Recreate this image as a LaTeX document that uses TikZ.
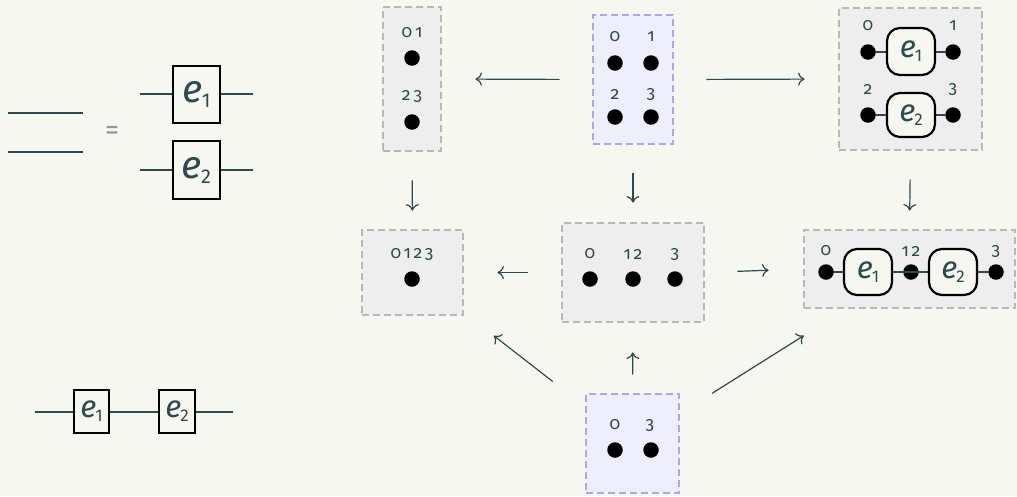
\documentclass[tikz,border=0pt]{standalone}
\usepackage{fontspec}
\setmainfont{Fira Sans}[Numbers=OldStyle]
\newfontfamily\subfont{Fira Sans}[Numbers=Lining]
\usetikzlibrary{arrows.meta}
\definecolor{bg}{HTML}{F7F7F2}
\definecolor{ink}{HTML}{2E4A4C}
\definecolor{framegray}{HTML}{B8B8B8}
\definecolor{fillgray}{HTML}{EEEEEE}
\definecolor{framepurple}{HTML}{A8A8EA}
\definecolor{fillpurple}{HTML}{EEEEFC}
\definecolor{eqgray}{HTML}{8C9696}
\newcommand{\ebig}[1]{{\fontsize{39}{39}\selectfont\itshape e}\kern-1pt\raisebox{-5pt}{\subfont\fontsize{20}{20}\selectfont #1}}
\newcommand{\emid}[1]{{\fontsize{31}{31}\selectfont\itshape e}\kern-1pt\raisebox{-4pt}{\subfont\fontsize{17}{17}\selectfont #1}}
\tikzset{
  grayframe/.style={rectangle, draw=framegray, fill=fillgray, line width=2.8pt, dash pattern=on 7pt off 4pt},
  purpleframe/.style={rectangle, draw=framepurple, fill=fillpurple, line width=2.8pt, dash pattern=on 7pt off 4pt},
  dot/.style={circle, fill=black, inner sep=0pt, minimum size=15.5pt},
  lab/.style={inner sep=0pt, text=ink, font=\fontsize{17.5}{17.5}\selectfont},
  arr/.style={draw=ink, line width=1.2pt, -{To[length=6.5pt,width=13pt]}},
  wire/.style={draw=ink, line width=2.4pt},
  sqbox/.style={rectangle, draw=black, line width=2.6pt, fill=bg, inner sep=0pt, text=ink},
  rbox/.style={rectangle, rounded corners=13pt, draw=black, line width=2.2pt, fill=bg, inner sep=0pt, text=ink, minimum width=48pt, minimum height=46pt},
}
\begin{document}
\begin{tikzpicture}[x=1pt,y=-1pt]
\useasboundingbox[fill=bg] (0,0) rectangle (1017,496);

% ---- left: two wires = e1 / e2
\coordinate (la0) at (8,113); \coordinate (la1) at (83,113);
\coordinate (lb0) at (8,152); \coordinate (lb1) at (83,152);
\draw[wire, line width=2.8pt] (la0) -- (la1);
\draw[wire, line width=2.8pt] (lb0) -- (lb1);
\node[text=eqgray, inner sep=0pt, font=\fontsize{28}{28}\selectfont] (eq) at (112,133) {=};
\coordinate (wa0) at (140,94); \coordinate (wa1) at (253,94);
\coordinate (wb0) at (140,170); \coordinate (wb1) at (253,170);
\draw[wire] (wa0) -- (wa1);
\draw[wire] (wb0) -- (wb1);
\node[sqbox, minimum width=47pt, minimum height=57pt] (be1) at (196.5,94.5) {\ebig{1}};
\node[sqbox, minimum width=47pt, minimum height=58pt] (be2) at (196.5,170) {\ebig{2}};

% ---- bottom left: e1 e2 in series
\coordinate (s0) at (35,412); \coordinate (s3) at (233,412);
\draw[wire] (s0) -- (s3);
\node[sqbox, line width=2.2pt, minimum width=35pt, minimum height=43pt] (se1) at (91.5,411.5) {\emid{1}};
\node[sqbox, line width=2.2pt, minimum width=36pt, minimum height=43pt] (se2) at (177,411.5) {\emid{2}};

% ---- frames
\node[grayframe, minimum width=58pt, minimum height=144pt] (t1) at (412,79) {};
\node[purpleframe, minimum width=80pt, minimum height=129pt] (t2) at (633,79.5) {};
\node[grayframe, minimum width=143pt, minimum height=142pt] (t3) at (910.5,79) {};
\node[grayframe, minimum width=101pt, minimum height=85pt] (m1) at (412.5,272.5) {};
\node[grayframe, minimum width=142pt, minimum height=99pt] (m2) at (633,272.5) {};
\node[grayframe, minimum width=211pt, minimum height=78pt] (m3) at (909.5,269) {};
\node[purpleframe, minimum width=93pt, minimum height=99pt] (bot) at (632.5,443.5) {};

% ---- t1
\node[lab] (t1l1) at (412,33) {0\kern3pt1};
\node[dot] (t1d1) at (412,58) {};
\node[lab] (t1l2) at (412,96) {2\kern3pt3};
\node[dot] (t1d2) at (412,122) {};

% ---- t2
\node[lab] (t2l0) at (615,37) {0};
\node[lab] (t2l1) at (651,37) {1};
\node[lab] (t2l2) at (615,94) {2};
\node[lab] (t2l3) at (651,94) {3};
\node[dot] (t2d0) at (615,63) {};
\node[dot] (t2d1) at (651,63) {};
\node[dot] (t2d2) at (615,117) {};
\node[dot] (t2d3) at (651,117) {};

% ---- t3
\node[lab] (t3l0) at (868,26) {0};
\node[lab] (t3l1) at (953,26) {1};
\node[lab] (t3l2) at (868,89) {2};
\node[lab] (t3l3) at (953,89) {3};
\node[dot] (t3d0) at (868,52) {};
\node[dot] (t3d1) at (953,52) {};
\node[dot] (t3d2) at (868,115) {};
\node[dot] (t3d3) at (953,115) {};
\draw[wire] (t3d0) -- (t3d1);
\draw[wire] (t3d2) -- (t3d3);
\node[rbox, minimum height=47pt] (t3e1) at (911,51.5) {\emid{1}};
\node[rbox, minimum height=44pt] (t3e2) at (911,115) {\emid{2}};

% ---- m1
\node[lab] (m1l) at (412,254) {0\kern2.5pt1\kern2.5pt2\kern2.5pt3};
\node[dot] (m1d) at (412,279) {};

% ---- m2
\node[lab] (m2l0) at (590,254) {0};
\node[lab] (m2l1) at (633,254) {1\kern2.5pt2};
\node[lab] (m2l3) at (675,254) {3};
\node[dot] (m2d0) at (590,279) {};
\node[dot] (m2d1) at (633,279) {};
\node[dot] (m2d3) at (675,279) {};

% ---- m3
\node[lab] (m3l0) at (826,251) {0};
\node[lab] (m3l1) at (911,251) {1\kern2.5pt2};
\node[lab] (m3l3) at (996,251) {3};
\node[dot] (m3d0) at (826,272) {};
\node[dot] (m3d1) at (911,272) {};
\node[dot] (m3d3) at (996,272) {};
\draw[wire] (m3d0) -- (m3d3);
\node[rbox] (m3e1) at (868,272) {\emid{1}};
\node[rbox] (m3e2) at (953,272) {\emid{2}};

% ---- bottom
\node[lab] (bl0) at (615,425) {0};
\node[lab] (bl3) at (650,425) {3};
\node[dot] (bd0) at (615,450) {};
\node[dot] (bd3) at (651,450) {};

% ---- arrows
\draw[arr, shorten <=32pt, shorten >=33pt] (t2.west) -- (t1.east);
\draw[arr, shorten <=32pt, shorten >=33pt] (t2.east) -- (t3.west);
\draw[arr, shorten <=28pt, shorten >=18pt] (t1.south) -- (m1.north);
\draw[arr, shorten <=28pt, shorten >=19pt] (t2.south) -- (m2.north);
\draw[arr, shorten <=28pt, shorten >=18pt] (t3.south) -- (m3.north);
\draw[arr, shorten <=33pt, shorten >=33pt] (m2.west) -- (m1.east);
\draw[arr, shorten <=32pt, shorten >=34pt] (m2.east) -- (m3.west);
\draw[arr, shorten <=18pt, shorten >=29pt] (bot.north) -- (m2.south);
\draw[arr, shorten <=101pt, shorten >=103pt] (bot.center) -- (m1.center);
\draw[arr, shorten <=94pt, shorten >=125pt] (bot.center) -- (m3.center);
\end{tikzpicture}
\end{document}
